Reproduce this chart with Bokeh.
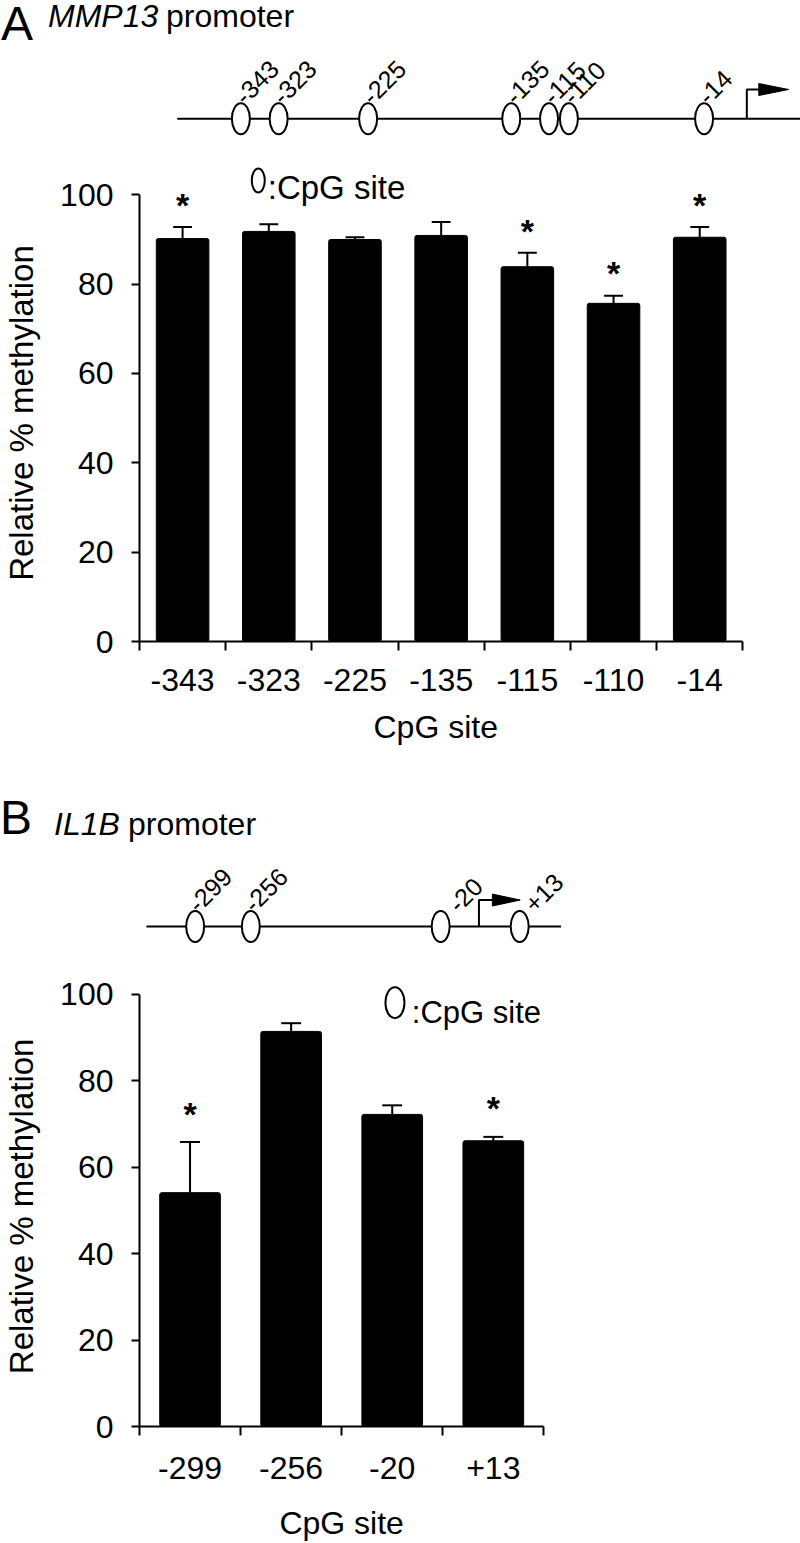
import numpy as np
from bokeh.plotting import figure
from bokeh.layouts import column
from bokeh.models import (Range1d, FixedTicker, CustomJSTickFormatter, ColumnDataSource,
                          LinearAxis, Div)
from bokeh.core.properties import value
from bokeh.embed import file_html
from bokeh.resources import INLINE

# ---------------- data ----------------
sites_a = ["-343", "-323", "-225", "-135", "-115", "-110", "-14"]
meth_a = [90.2, 91.8, 90.0, 90.9, 83.9, 75.7, 90.5]
err_a = [2.6, 1.6, 0.5, 3.0, 3.1, 1.7, 2.3]
sig_a = [True, False, False, False, True, True, True]

sites_b = ["-299", "-256", "-20", "+13"]
meth_b = [54.1, 91.4, 72.2, 66.1]
err_b = [11.7, 1.9, 2.1, 0.9]
sig_b = [True, False, False, True]

# schematic promoter maps (diagram units, left to right)
map_a = [237, 275, 365, 509, 547, 567, 703]
map_b = [189, 245, 436, 515.5]

FONT = "Liberation Sans"
W = 800
LEFT = 135
FRAME_W = W - LEFT


def title_div(h, letter, letter_pos, gene, gene_pos, prom_pos):
    def span(x, top, size, text, italic=False):
        st = "italic" if italic else "normal"
        return (f'<span style="position:absolute;left:{x}px;top:{top}px;font-size:{size}px;'
                f'line-height:{size}px;font-style:{st};white-space:nowrap;">{text}</span>')
    html = (f'<div style="position:relative;width:{W}px;height:{h}px;'
            f'font-family:\'{FONT}\';color:black;">'
            + span(letter_pos[0], letter_pos[1], 48, letter)
            + span(gene_pos[0], gene_pos[1], 32, gene, italic=True)
            + span(prom_pos[0], prom_pos[1], 32, "promoter")
            + '</div>')
    return Div(text=html, width=W, height=h, margin=0)


def make_panel(cats, vals, errs, sig, fig_h, border_b, px_per_cat, px_per_pct,
               diag_x, diag_y, bar_w, cap_px, star_gap, s1, s2, ylab_val, xlab_val,
               line_y, line_x, site_x, label_dx, tss, arrow, legend):
    n = len(cats)
    xc = [i + 0.5 for i in range(n)]
    up = [v + e for v, e in zip(vals, errs)]
    frame_h = fig_h - border_b
    p = figure(width=W, height=fig_h,
               x_range=Range1d(0, FRAME_W / px_per_cat),
               y_range=Range1d(0, frame_h / px_per_pct),
               toolbar_location=None, output_backend="svg",
               min_border_left=LEFT, min_border_right=0,
               min_border_top=0, min_border_bottom=border_b, outline_line_color=None)
    p.extra_x_ranges = {"d": Range1d(*diag_x)}
    p.extra_y_ranges = {"d": Range1d(*diag_y)}
    p.xgrid.visible = False
    p.ygrid.visible = False

    # ---- bars with upper error bars ----
    src = ColumnDataSource(dict(x=xc, top=vals, up=up))
    p.vbar(x="x", top="top", bottom=0, width=bar_w, source=src,
           fill_color="black", line_color="black", line_width=1, border_radius=2)
    p.segment(x0="x", y0="top", x1="x", y1="up", source=src, line_width=2, color="black")
    half = cap_px / px_per_cat / 2
    p.segment(x0=[x - half for x in xc], y0=up, x1=[x + half for x in xc], y1=up,
              line_width=2, color="black")
    sx = [x for x, s in zip(xc, sig) if s]
    sy = [u + star_gap for u, s in zip(up, sig) if s]
    p.text(x=sx, y=sy, text=["*"] * len(sx), text_font=value(FONT), text_font_size="34px",
           text_font_style="bold", text_align="center", text_baseline="alphabetic", text_color="black")

    # ---- promoter schematic ----
    p.line(list(line_x), [line_y, line_y], line_width=2, color="black",
           x_range_name="d", y_range_name="d")
    (ah, stem, head) = arrow
    p.line([tss, tss, tss + stem], [line_y, line_y + ah, line_y + ah], line_width=2, color="black",
           x_range_name="d", y_range_name="d")
    hx = tss + stem
    p.patch([hx, hx, hx + head], [line_y + ah - 6, line_y + ah + 6, line_y + ah],
            fill_color="black", line_color="black", line_width=1,
            x_range_name="d", y_range_name="d")
    p.ellipse(x=site_x, y=[line_y] * len(site_x), width=18, height=31,
              width_units="screen", height_units="screen",
              fill_color="white", line_color="black", line_width=2,
              x_range_name="d", y_range_name="d")
    p.text(x=[s + d for s, d in zip(site_x, label_dx)], y=[line_y + 19] * len(site_x), text=cats,
           angle=np.pi / 4, text_font=value(FONT), text_font_size="25px",
           text_align="left", text_baseline="alphabetic", text_color="black",
           x_range_name="d", y_range_name="d")

    # ---- legend ----
    (ex, ey, ew, eh, tx, ty, tfs) = legend
    p.ellipse(x=[ex], y=[ey], width=ew, height=eh, width_units="screen", height_units="screen",
              fill_color="white", line_color="black", line_width=2,
              x_range_name="d", y_range_name="d")
    p.text(x=[tx], y=[ty], text=[":CpG site"], text_font=value(FONT), text_font_size=tfs,
           text_align="left", text_baseline="alphabetic", text_color="black",
           x_range_name="d", y_range_name="d")

    # ---- y axis ----
    yax = p.yaxis[0]
    yax.ticker = FixedTicker(ticks=[0, 20, 40, 60, 80, 100])
    yax.bounds = (0, 100)
    yax.major_label_text_font = FONT
    yax.major_label_text_font_size = "32px"
    yax.major_label_text_color = "black"
    yax.major_label_standoff = 18
    yax.major_tick_out = 8
    yax.major_tick_in = 0
    yax.major_tick_line_width = 2
    yax.minor_tick_line_color = None
    yax.axis_line_width = 2
    yax.axis_line_color = "black"

    # y axis title, carried by a second left axis with a single labelled position
    ytitle = LinearAxis(ticker=FixedTicker(ticks=[ylab_val]),
                        formatter=CustomJSTickFormatter(code="return 'Relative % methylation';"),
                        axis_line_color=None, major_tick_line_color=None, minor_tick_line_color=None,
                        major_tick_out=0, major_tick_in=0, major_label_standoff=17,
                        major_label_orientation="vertical",
                        major_label_text_font=FONT, major_label_text_font_size="33px",
                        major_label_text_color="black")
    p.add_layout(ytitle, "left")

    # ---- x axis (ticks at category boundaries, labels at centres) ----
    xax = p.xaxis[0]
    xax.ticker = FixedTicker(ticks=xc, minor_ticks=list(range(n + 1)))
    xax.formatter = CustomJSTickFormatter(args=dict(labels=cats), code="return labels[Math.floor(tick)];")
    xax.bounds = (0, n)
    xax.major_tick_out = 0
    xax.major_tick_in = 0
    xax.major_tick_line_color = None
    xax.minor_tick_out = 9
    xax.minor_tick_in = 0
    xax.minor_tick_line_width = 2
    xax.minor_tick_line_color = "black"
    xax.axis_line_width = 2
    xax.axis_line_color = "black"
    xax.major_label_text_font = FONT
    xax.major_label_text_font_size = "32px"
    xax.major_label_text_color = "black"
    xax.major_label_standoff = s1

    xtitle = LinearAxis(ticker=FixedTicker(ticks=[xlab_val]),
                        formatter=CustomJSTickFormatter(code="return 'CpG site';"),
                        axis_line_color=None, major_tick_line_color=None, minor_tick_line_color=None,
                        major_tick_out=0, major_tick_in=0, major_label_standoff=s2,
                        major_label_text_font=FONT, major_label_text_font_size="32px",
                        major_label_text_color="black")
    p.add_layout(xtitle, "below")
    return p


div_a = title_div(46, "A", (1, 0), "MMP13", (48, 0), (166, 0))
# figure A spans screen y 46..790, frame 46..641
panel_a = make_panel(
    sites_a, meth_a, err_a, sig_a, fig_h=744, border_b=149, px_per_cat=86.71, px_per_pct=4.467,
    diag_x=(135, 800), diag_y=(-641, -46), bar_w=0.61, cap_px=19, star_gap=5.0, s1=18, s2=15,
    ylab_val=51.15, xlab_val=3.437,
    line_y=-118.3, line_x=(173, 800), site_x=map_a, label_dx=[-2] * 7, tss=746,
    arrow=(29.3, 12, 30),
    legend=(254.5, -180, 13, 24, 264, -187, "33px"))

div_b = title_div(58, "B", (0, 4), "IL1B", (54, 18), (128, 18))
# figure B spans screen y 848..1543, frame 848..1431
panel_b = make_panel(
    sites_b, meth_b, err_b, sig_b, fig_h=695, border_b=112, px_per_cat=101.7, px_per_pct=4.36,
    diag_x=(133, 798), diag_y=(-1431, -848), bar_w=0.6, cap_px=20, star_gap=6.6, s1=21, s2=23,
    ylab_val=50.92, xlab_val=2.0,
    line_y=-926.7, line_x=(140, 557), site_x=map_b, label_dx=[-3, -3, 12, 9], tss=474.5,
    arrow=(26.7, 13.5, 28),
    legend=(390, -1003.5, 19, 31, 407, -1013, "31px"))

layout = column(div_a, panel_a, div_b, panel_b, spacing=0)
open("out.html", "w").write(file_html(layout, INLINE))
